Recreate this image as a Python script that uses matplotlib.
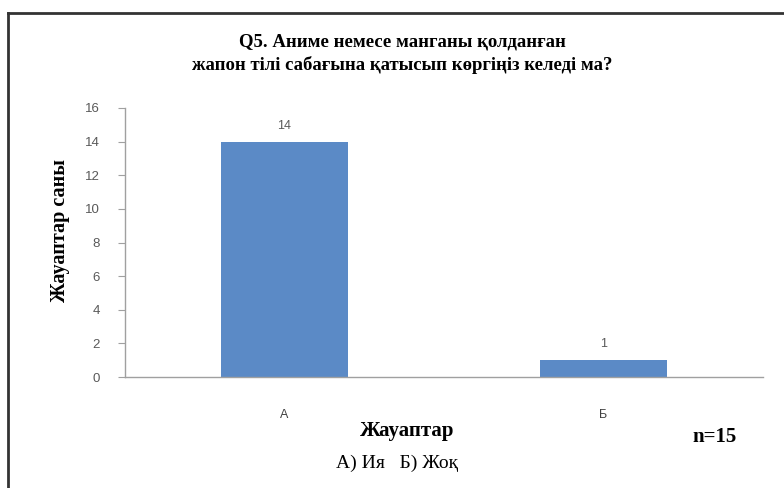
import matplotlib
matplotlib.use("Agg")
import matplotlib.pyplot as plt
from matplotlib.lines import Line2D

# Data
categories = ["А", "Б"]
counts = [14, 1]
yticks = [0, 2, 4, 6, 8, 10, 12, 14, 16]

title = "Q5. Аниме немесе манганы қолданған\nжапон тілі сабағына қатысып көргіңіз келеді ма?"
ylabel = "Жауаптар саны"
xlabel = "Жауаптар"
note = "n=15"
legend_text = "А) Ия   Б) Жоқ"

serif = ["Liberation Serif", "DejaVu Serif"]
sans = ["Liberation Sans", "DejaVu Sans"]
gray = "#595959"

fig = plt.figure(figsize=(7.84, 4.88), dpi=100)
ax = fig.add_axes([125 / 784, 1 - 377 / 488, 638 / 784, 269 / 488])

x = range(len(categories))
bars = ax.bar(x, counts, width=0.4, color="#5B8AC6", zorder=2)
for b, v in zip(bars, counts):
    ax.text(b.get_x() + b.get_width() / 2, v + 0.6, str(v), ha="center", va="bottom",
            fontsize=9, color=gray, family=sans)

ax.set_xlim(-0.5, 1.5)
ax.set_ylim(0, 16)
ax.set_yticks(yticks)
ax.set_yticklabels([str(t) for t in yticks], fontsize=9.5, color=gray, family=sans)
ax.set_xticks(list(x))
ax.set_xticklabels(categories, fontsize=9, color="#404040", family=sans)
ax.tick_params(axis="x", length=0, pad=23)
ax.tick_params(axis="y", length=5, color="#a0a0a0", pad=13)

for s in ["top", "right"]:
    ax.spines[s].set_visible(False)
for s in ["left", "bottom"]:
    ax.spines[s].set_color("#a0a0a0")
    ax.spines[s].set_linewidth(1)

fig.text(402 / 784, 1 - 54 / 488, title, ha="center", va="center", fontsize=13.5,
         fontweight="bold", family=serif, linespacing=1.4)
fig.text(60 / 784, 1 - 230 / 488, ylabel, ha="center", va="center", rotation=90,
         fontsize=14.5, fontweight="bold", family=serif)
fig.text(407 / 784, 1 - 431 / 488, xlabel, ha="center", va="center", fontsize=15,
         fontweight="bold", family=serif)
fig.text(715 / 784, 1 - 437 / 488, note, ha="center", va="center", fontsize=15,
         fontweight="bold", family=serif)
fig.text(397 / 784, 1 - 463 / 488, legend_text, ha="center", va="center", fontsize=14,
         family=serif)

# outer frame (top and left edges visible)
fig.add_artist(Line2D([8 / 784, 8 / 784], [0, 1 - 13 / 488], transform=fig.transFigure,
                      color="#333333", lw=2))
fig.add_artist(Line2D([8 / 784, 1], [1 - 13 / 488, 1 - 13 / 488], transform=fig.transFigure,
                      color="#333333", lw=2))

fig.savefig("out.png", dpi=100)
